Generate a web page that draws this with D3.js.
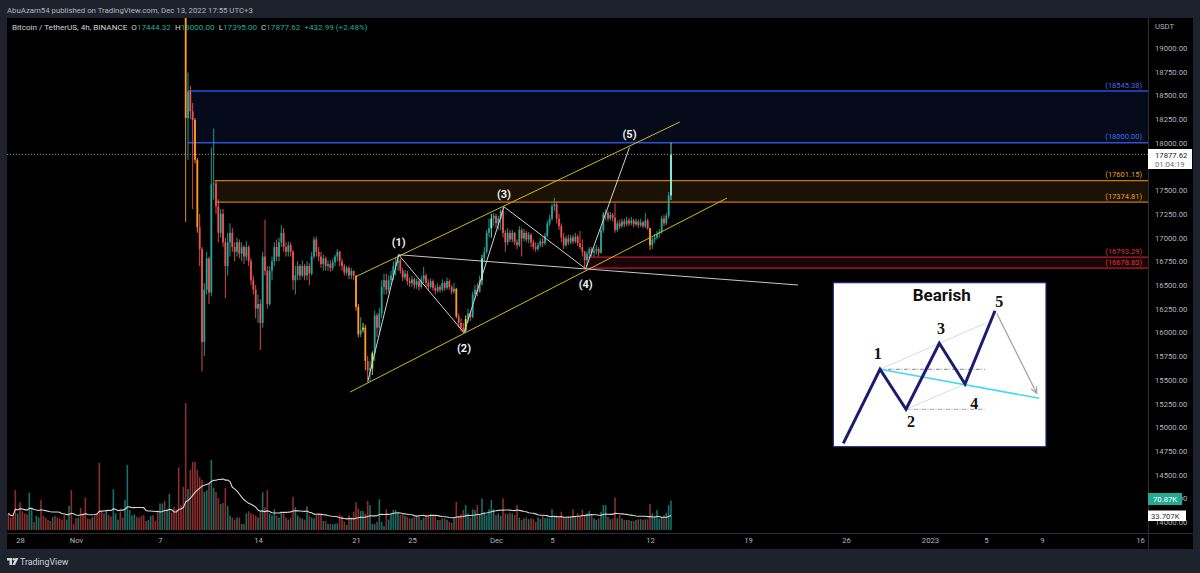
<!DOCTYPE html>
<html>
<head>
<meta charset="utf-8">
<script src="https://cdn.jsdelivr.net/npm/d3@7"></script>
<style>
  body { margin: 0; background: #1e222d; }
  svg { display: block; }
  text { font-family: Roboto, "Noto Sans", sans-serif; }
</style>
</head>
<body>
<svg id="chart" width="1200" height="573"></svg>
<script>
// ---- data (times are exchange-local UTC+3, 4h bars) ----
const firstCandle = "2022-11-08T07:00";
const firstOpen = 20550;
const closes = [20400,20300,19950,19650,18260,18540,18330,18240,17820,17110,16880,15900,16450,16780,16420,17560,17570,17330,17050,17250,
  16950,16700,16950,17050,16900,16850,16950,16830,16900,16800,16900,16750,16550,16450,16250,16300,16100,16800,16650,16300,
  16650,16750,16900,16800,16950,17050,16900,16850,16920,16850,16550,16600,16700,16600,16700,16600,16700,16620,16800,16980,
  16850,16800,16720,16780,16700,16720,16680,16740,16800,16850,16750,16700,16630,16680,16600,16650,16600,16270,15980,16030,
  16050,15700,15600,15620,15780,16180,16050,16200,16480,16550,16450,16550,16600,16700,16730,16760,16650,16580,16620,16540,
  16520,16560,16500,16540,16480,16560,16600,16520,16480,16540,16470,16440,16480,16450,16520,16470,16540,16480,16430,16460,
  16170,16100,16050,16020,16140,16200,16160,16400,16450,16430,16550,16780,16850,17050,17100,17200,17230,17150,17200,17280,
  17050,16950,17050,16980,17050,16950,16920,17080,16990,17050,16980,17030,16950,16900,16880,16920,16960,16940,17020,17150,
  17200,17330,17350,17200,17120,17000,16920,16990,16950,17000,16960,17010,16940,16900,16850,16760,16830,16880,16840,16860,
  16880,16840,17080,17250,17260,17200,17240,17210,17080,17150,17120,17170,17140,17180,17150,17180,17140,17170,17130,17160,
  17120,17180,17100,16920,16980,17000,17040,17060,17200,17150,17230,17444.32,17877.62];
const highs = [20650,20500,20350,20700,19700,18740,18600,18420,18260,17840,17250,16900,16520,16850,16800,17950,18150,17600,17400,17300,
  17300,17000,17050,17150,17100,16950,17000,16980,16950,16920,16960,16920,16780,16600,16500,16400,16350,16850,17190,16700,
  16700,16800,16950,16980,17000,17130,17100,16950,16960,16950,16870,16700,16750,16720,16760,16720,16750,16730,16850,17010,
  17010,16900,16850,16820,16800,16760,16760,16780,16820,16880,16860,16780,16720,16700,16700,16680,16650,16600,16300,16160,
  16100,16080,15750,15700,15800,16230,16200,16260,16550,16620,16620,16600,16650,16750,16790,16819,16780,16680,16660,16650,
  16580,16600,16580,16570,16560,16600,16690,16620,16560,16570,16560,16500,16520,16500,16560,16540,16580,16560,16500,16520,
  16470,16200,16150,16100,16180,16250,16230,16430,16500,16520,16600,16820,16900,17080,17200,17250,17260,17250,17230,17300,
  17325,17080,17100,17080,17080,17060,16980,17120,17100,17090,17070,17060,17050,16980,16950,16950,16990,17000,17050,17180,
  17240,17360,17420,17380,17250,17150,17050,17020,17030,17030,17030,17050,17030,17070,16980,16860,16860,16900,16900,16900,
  16920,16900,17110,17270,17300,17280,17270,17260,17360,17180,17190,17200,17200,17220,17210,17220,17200,17200,17190,17200,
  17180,17260,17200,17100,17000,17040,17070,17090,17230,17240,17260,17480,18000];
const lows = [20250,20150,19800,19450,17166,17820,18250,17300,17780,17050,16700,15588,15750,16400,16300,16380,17400,17250,16950,17000,
  16900,16360,16600,16800,16850,16750,16800,16780,16750,16720,16760,16700,16500,16400,16150,16100,15815,16050,16600,16250,
  16280,16550,16700,16750,16750,16900,16850,16800,16800,16800,16450,16400,16550,16550,16580,16550,16550,16500,16600,16780,
  16800,16750,16680,16650,16650,16650,16640,16650,16700,16750,16700,16650,16600,16600,16560,16560,16550,16230,15950,15950,
  16000,15600,15500,15476,15550,15700,15950,16000,16150,16400,16400,16420,16500,16550,16600,16650,16620,16540,16550,16500,
  16480,16480,16460,16460,16440,16460,16520,16480,16440,16460,16440,16400,16420,16420,16430,16440,16450,16450,16400,16410,
  16150,16050,16010,15997,16000,16100,16120,16150,16350,16380,16420,16500,16750,16830,17000,17000,17120,17100,17080,17080,
  17000,16850,16920,16950,16950,16920,16880,16900,16800,16960,16950,16940,16900,16870,16850,16860,16900,16900,16920,17000,
  17120,17180,17280,17150,17080,16950,16880,16900,16920,16930,16930,16940,16910,16880,16800,16671,16700,16780,16800,16800,
  16820,16800,16830,17050,17180,17170,17180,17170,17050,17060,17090,17100,17110,17120,17120,17130,17110,17120,17100,17110,
  17100,17100,17080,16870,16880,16940,16980,17000,17040,17120,17130,17200,17395];
// bars that the chart's bar-colour script painted differently
const orangeBars = [4, 8, 9, 77, 78, 81, 120, 203];
const limeBars = [80, 84, 124];
const aquaBars = [131, 135, 212];
const lastChange = 432.99;
const lastChangePct = 2.48;

// volume in thousands of BTC, from the first visible bar
const firstVolumeBar = "2022-10-27T07:00";
const earlyVolumeUp = [0,0,0,0,1,0,0,0,0,1,1,0,1,1,0,0,0,0,0,1,0,0,0,0,0,1,1,0,0,0,1,0,0,0,0,0,1,0,0,0,
  0,0,1,0,0,1,1,1,0,0,1,1,1,1,1,0,0,0,0,0,1,1,0,0,0,1,1,0,1,1,0,0];
const volumes = [40,30,35,96,40,67,45,40,38,90,53,19,34,30,72,34,30,24,22,31,34,30,28,24,36,25,58,96,15,28,
  30,53,40,78,28,26,31,35,40,162,45,40,45,36,32,98,40,25,45,30,72,157,48,35,38,32,30,34,36,22,
  24,34,36,22,45,64,64,70,50,87,42,55,
  50,151,60,104,306,99,145,164,164,145,128,121,92,96,113,169,101,92,77,63,
  65,101,58,35,30,25,30,30,15,15,40,45,40,38,35,30,45,91,55,96,
  40,35,50,35,30,45,40,30,25,30,80,55,35,30,28,25,57,35,30,28,
  38,38,38,22,22,15,15,14,15,16,37,33,20,12,36,30,44,67,52,46,
  46,40,70,60,15,14,20,74,20,10,50,25,40,48,48,40,36,40,34,32,
  28,28,32,34,34,24,30,36,33,38,38,36,24,24,28,28,25,20,18,30,
  68,34,38,48,60,40,30,50,48,60,36,76,44,36,50,72,50,36,40,34,
  76,40,38,42,40,36,60,30,24,28,30,26,28,26,20,30,26,34,28,30,
  28,50,36,34,32,44,32,30,30,32,50,32,40,32,49,36,40,46,36,28,
  24,28,44,60,60,32,26,28,78,28,36,28,24,24,24,22,22,24,26,26,
  24,26,26,63,40,32,48,28,32,36,42,60,70.87];
const volumeMaLabel = "33.707K";

// horizontal zones drawn on the chart
const zoneStarts = ["2022-11-09T03:00", "2022-11-11T01:00", "2022-12-07T13:00"];
const zoneTops = [18545.38, 17601.15, 16793.29];
const zoneBottoms = [18000.00, 17374.81, 16678.83];
const lastPrice = 17877.62;
const barCountdown = "01:04:19";

// trend channel and wave count
const channelUpper = [["2022-11-21T01:20", 16584], ["2022-12-14T06:00", 18218]];
const channelLower = [["2022-11-20T16:50", 15371], ["2022-12-17T15:00", 17417]];
const wavePoints = [["2022-11-21T23:00", 15476], ["2022-11-24T04:10", 16819], ["2022-11-28T20:10", 15997],
  ["2022-12-01T16:40", 17325], ["2022-12-07T12:45", 16671], ["2022-12-10T15:50", 17950]];
const waveLabels = ["", "(1)", "(2)", "(3)", "(4)", "(5)"];
const waveLabelSide = [0, -1, 1, -1, 1, -1];
const baseLine = [["2022-11-24T04:10", 16819], ["2022-12-22T16:40", 16500]];

// price ticks; 17750 sits under the last-price badge and is not shown
const priceTicks = d3.range(14000, 19001, 250).filter(v => v !== 17750);
const timeTicks = ["2022-10-28","2022-11-01","2022-11-07","2022-11-14","2022-11-21","2022-11-25","2022-12-01","2022-12-05",
  "2022-12-12","2022-12-19","2022-12-26","2023-01-01","2023-01-05","2023-01-09","2023-01-16"];
const timeTickLabels = ["28","Nov","7","14","21","25","Dec","5","12","19","26","2023","5","9","16"];

// the pasted "Bearish" sketch, in its own units (0..220 x 0..170)
const sketchWave = [[13.3,6.7],[50,80.7],[76,40.7],[109.3,106.7],[135,66],[165,139.3]];
const sketchLabels = ["1","2","3","4","5"];
const sketchLabelPos = [[47.7,96.7],[81,28.3],[111,121.7],[144.3,46.7],[169.3,148.3]];

// ---- layout ----
const svg = d3.select("#chart");
const plotL = 7, plotR = 1148, plotT = 18, axisY = 533, plotB = 549;
const parseT = d3.utcParse("%Y-%m-%dT%H:%M");
const parseD = d3.utcParse("%Y-%m-%d");

const x = d3.scaleUtc()
  .domain([parseT("2022-10-27T03:00"), parseT("2023-01-16T03:00")])
  .range([6, 1140]);
const y = d3.scaleLinear().domain([14000, 19000]).range([522.1, 47.9]);
const yVol = d3.scaleLinear().domain([0, 306]).range([530, 403]);

const t0 = parseT(firstCandle);
const candles = closes.map((c, i) => ({
  t: d3.utcHour.offset(t0, 4 * i),
  o: i ? closes[i - 1] : firstOpen,
  h: highs[i], l: lows[i], c: c, i: i
}));
const vt0 = parseT(firstVolumeBar);
const nEarly = earlyVolumeUp.length;
const vbars = volumes.map((v, i) => ({
  t: d3.utcHour.offset(vt0, 4 * i),
  v: v,
  up: i < nEarly ? earlyVolumeUp[i] === 1 : candles[i - nEarly].c >= candles[i - nEarly].o
}));
const volMA = vbars.map((d, i) => ({ t: d.t, v: d3.mean(volumes.slice(Math.max(0, i - 19), i + 1)) }));

const candleColor = d => aquaBars.includes(d.i) ? "#86f3df"
  : limeBars.includes(d.i) ? "#c8e64c"
  : orangeBars.includes(d.i) ? "#ff9b21"
  : d.c >= d.o ? "#26a69a" : "#ef5350";

// frame
svg.append("rect").attr("x", plotL).attr("y", plotT).attr("width", 1193 - plotL).attr("height", plotB - plotT).attr("fill", "#000");
svg.append("defs").append("clipPath").attr("id", "plot")
  .append("rect").attr("x", plotL).attr("y", plotT).attr("width", plotR - plotL).attr("height", axisY - plotT);

const plot = svg.append("g").attr("clip-path", "url(#plot)");

// zones
const zoneFill = ["#060b1c", "#1b1205", "#1a0508"];
const zoneLine = ["#2a52d6", "#c97a0c", "#b3202e"];
const zoneText = ["#3d6ee8", "#f0a020", "#e0303f"];
zoneStarts.forEach((s, k) => {
  const x0 = x(parseT(s));
  plot.append("rect").attr("x", x0).attr("y", y(zoneTops[k]))
    .attr("width", plotR - x0).attr("height", y(zoneBottoms[k]) - y(zoneTops[k]))
    .attr("fill", zoneFill[k]);
  [zoneTops[k], zoneBottoms[k]].forEach(p => {
    plot.append("line").attr("x1", x0).attr("x2", plotR).attr("y1", y(p)).attr("y2", y(p))
      .attr("stroke", zoneLine[k]).attr("stroke-width", 1.3);
    plot.append("text").attr("x", plotR - 6).attr("y", y(p) - 3.5).attr("text-anchor", "end")
      .attr("font-size", 7.5).attr("fill", zoneText[k]).text("(" + p.toFixed(2) + ")");
  });
});

// volume
plot.selectAll(".vol").data(vbars).enter().append("rect")
  .attr("x", d => x(d.t) - 0.8).attr("width", 1.6)
  .attr("y", d => yVol(d.v)).attr("height", d => yVol(0) - yVol(d.v))
  .attr("fill", d => d.up ? "#1b6e66" : "#8a2e2d");
plot.append("path").datum(volMA)
  .attr("d", d3.line().x(d => x(d.t)).y(d => yVol(d.v)))
  .attr("fill", "none").attr("stroke", "#d6d6d6").attr("stroke-width", 1.1);

// candles
const cg = plot.selectAll(".candle").data(candles).enter().append("g");
cg.append("line")
  .attr("x1", d => x(d.t)).attr("x2", d => x(d.t))
  .attr("y1", d => y(d.h)).attr("y2", d => y(d.l))
  .attr("stroke", candleColor).attr("stroke-width", 0.9);
cg.append("rect")
  .attr("x", d => x(d.t) - 0.9).attr("width", 1.8)
  .attr("y", d => y(Math.max(d.o, d.c)))
  .attr("height", d => Math.max(0.8, Math.abs(y(d.o) - y(d.c))))
  .attr("fill", candleColor);

// last price dotted line
svg.append("line").attr("x1", plotL).attr("x2", plotR).attr("y1", y(lastPrice)).attr("y2", y(lastPrice))
  .attr("stroke", "#8a8d96").attr("stroke-dasharray", "1,2");

// drawings
const pt = a => [x(parseT(a[0])), y(a[1])];
const line = d3.line();
[channelUpper, channelLower].forEach(c => {
  plot.append("path").attr("d", line(c.map(pt))).attr("stroke", "#cdb91e").attr("stroke-width", 1).attr("fill", "none");
});
plot.append("path").attr("d", line(baseLine.map(pt))).attr("stroke", "#c8c8c8").attr("stroke-width", 1).attr("fill", "none");
plot.append("path").attr("d", line(wavePoints.map(pt))).attr("stroke", "#d0d0d0").attr("stroke-width", 1).attr("fill", "none");
wavePoints.forEach((p, k) => {
  if (!waveLabels[k]) return;
  const [px, py] = pt(p);
  plot.append("text").attr("x", px).attr("y", py + (waveLabelSide[k] < 0 ? -9 : 19))
    .attr("text-anchor", "middle").attr("font-size", 11).attr("font-weight", "bold")
    .attr("fill", "#f0f0f0").text(waveLabels[k]);
});

// axes
svg.append("line").attr("x1", plotR + 0.5).attr("x2", plotR + 0.5).attr("y1", plotT).attr("y2", plotB).attr("stroke", "#2a2e39");
svg.append("line").attr("x1", plotL).attr("x2", 1193).attr("y1", axisY + 0.5).attr("y2", axisY + 0.5).attr("stroke", "#2a2e39");

const yAxis = svg.append("g").attr("transform", `translate(${plotR},0)`)
  .call(d3.axisRight(y).tickValues(priceTicks).tickFormat(d3.format(".2f")).tickSize(0).tickPadding(7));
yAxis.select(".domain").remove();
yAxis.selectAll("text").attr("font-size", 7.7).attr("fill", "#b2b5be").attr("font-family", "Roboto, sans-serif");

const xAxis = svg.append("g").attr("transform", `translate(0,${axisY})`)
  .call(d3.axisBottom(x).tickValues(timeTicks.map(d => d3.utcHour.offset(parseD(d), 3)))
    .tickFormat((d, i) => timeTickLabels[i]).tickSize(0).tickPadding(5));
xAxis.select(".domain").remove();
xAxis.selectAll("text").attr("font-size", 7.7).attr("fill", "#b2b5be").attr("font-family", "Roboto, sans-serif");

svg.append("text").attr("x", 1155).attr("y", 29).attr("font-size", 7.7).attr("fill", "#b2b5be").text("USDT");

// price axis badges (14250 / 14000 ticks stay partly hidden behind the volume badges, as in the original)
svg.append("rect").attr("x", plotR).attr("y", 149).attr("width", 44).attr("height", 20).attr("fill", "#fff");
svg.append("text").attr("x", 1155).attr("y", 158).attr("font-size", 7.7).attr("fill", "#131722").text(lastPrice.toFixed(2));
svg.append("text").attr("x", 1155).attr("y", 167).attr("font-size", 7.7).attr("fill", "#6a6d78").text(barCountdown);
svg.append("rect").attr("x", plotR).attr("y", 493).attr("width", 34).attr("height", 12).attr("fill", "#22ab94");
svg.append("text").attr("x", 1153).attr("y", 502).attr("font-size", 7.7).attr("fill", "#fff").text(volumes[volumes.length - 1].toFixed(2) + "K");
svg.append("rect").attr("x", plotR).attr("y", 510.5).attr("width", 38).attr("height", 10.5).attr("fill", "#fff");
svg.append("text").attr("x", 1151).attr("y", 518.8).attr("font-size", 7.7).attr("fill", "#333").text(volumeMaLabel);

// header texts
svg.append("text").attr("x", 7).attr("y", 13).attr("font-size", 7.8).attr("fill", "#b2b5be")
  .text("AbuAzam54 published on TradingView.com, Dec 13, 2022 17:55 UTC+3");
const legend = svg.append("text").attr("x", 12).attr("y", 30).attr("font-size", 8.1).attr("fill", "#d1d4dc");
const lastBar = candles[candles.length - 1];
legend.append("tspan").text("Bitcoin / TetherUS, 4h, BINANCE\u00a0\u00a0");
[["O", lastBar.o], ["H", lastBar.h], ["L", lastBar.l], ["C", lastBar.c]].forEach(([k, v]) => {
  legend.append("tspan").text(k);
  legend.append("tspan").attr("fill", "#22ab94").text(v.toFixed(2) + "\u00a0\u00a0");
});
legend.append("tspan").attr("fill", "#22ab94")
  .text("+" + lastChange.toFixed(2) + " (+" + lastChangePct.toFixed(2) + "%)");

// footer logo
const logo = svg.append("g").attr("transform", "translate(7,558)");
logo.append("path").attr("d", "M0 0h5v7h-2.5v-4.5h-2.5z").attr("fill", "#d1d4dc");
logo.append("circle").attr("cx", 6.8).attr("cy", 1.3).attr("r", 1.3).attr("fill", "#d1d4dc");
logo.append("path").attr("d", "M8.5 0h3l-3.5 7h-2.6z").attr("fill", "#d1d4dc");
svg.append("text").attr("x", 20).attr("y", 565).attr("font-size", 8.8).attr("fill", "#d1d4dc").text("TradingView");

// "Bearish" sketch
const ix = d3.scaleLinear().domain([0, 220]).range([830, 1050]);
const iy = d3.scaleLinear().domain([0, 170]).range([450, 280]);
const sk = svg.append("g");
sk.append("rect").attr("x", ix(3.3)).attr("y", iy(167.3)).attr("width", ix(216) - ix(3.3)).attr("height", iy(3.3) - iy(167.3))
  .attr("fill", "#fff").attr("stroke", "#1e2a78").attr("stroke-width", 1.2);
const sp = p => [ix(p[0]), iy(p[1])];
const w = sketchWave;
sk.append("path").attr("d", line([w[1], [155, w[1][1]]].map(sp))).attr("stroke", "#555").attr("stroke-width", 0.7).attr("stroke-dasharray", "4,1.5,1,1.5");
sk.append("path").attr("d", line([w[2], [155, w[2][1]]].map(sp))).attr("stroke", "#777").attr("stroke-width", 0.7).attr("stroke-dasharray", "4,1.5,1,1.5");
sk.append("path").attr("d", line([w[1], [156.7, 127.3]].map(sp))).attr("stroke", "#c9c9e0").attr("stroke-width", 0.7);
sk.append("path").attr("d", line([w[2], w[4]].map(sp))).attr("stroke", "#c9c9e0").attr("stroke-width", 0.7);
sk.append("path").attr("d", line([w[1], [209.3, 51.7]].map(sp))).attr("stroke", "#3fdcec").attr("stroke-width", 1.6);
sk.append("path").attr("d", line(w.map(sp))).attr("stroke", "#1c1c6e").attr("stroke-width", 3).attr("fill", "none");
const a0 = sp([166.7, 136.7]), a1 = sp([206.7, 56.7]);
sk.append("line").attr("x1", a0[0]).attr("y1", a0[1]).attr("x2", a1[0]).attr("y2", a1[1]).attr("stroke", "#a0a0a0").attr("stroke-width", 1.2);
const ang = Math.atan2(a1[1] - a0[1], a1[0] - a0[0]);
const head = [-0.45, 0.45].map(da => [a1[0] - 7 * Math.cos(ang + da), a1[1] - 7 * Math.sin(ang + da)]);
sk.append("path").attr("d", line([head[0], a1, head[1]])).attr("stroke", "#a0a0a0").attr("stroke-width", 1.2).attr("fill", "none");
sk.append("text").attr("x", ix(111.7)).attr("y", iy(155) + 6).attr("text-anchor", "middle")
  .attr("font-family", "Liberation Sans, Arial, sans-serif").attr("font-weight", "bold").attr("font-size", 17)
  .attr("fill", "#111").text("Bearish");
sketchLabels.forEach((s, k) => {
  sk.append("text").attr("x", ix(sketchLabelPos[k][0])).attr("y", iy(sketchLabelPos[k][1]) + 5.5)
    .attr("text-anchor", "middle").attr("style", "font-family: 'Liberation Serif', 'DejaVu Serif', serif")
    .attr("font-weight", "bold").attr("font-size", 16).attr("fill", "#111").text(s);
});
</script>
</body>
</html>
